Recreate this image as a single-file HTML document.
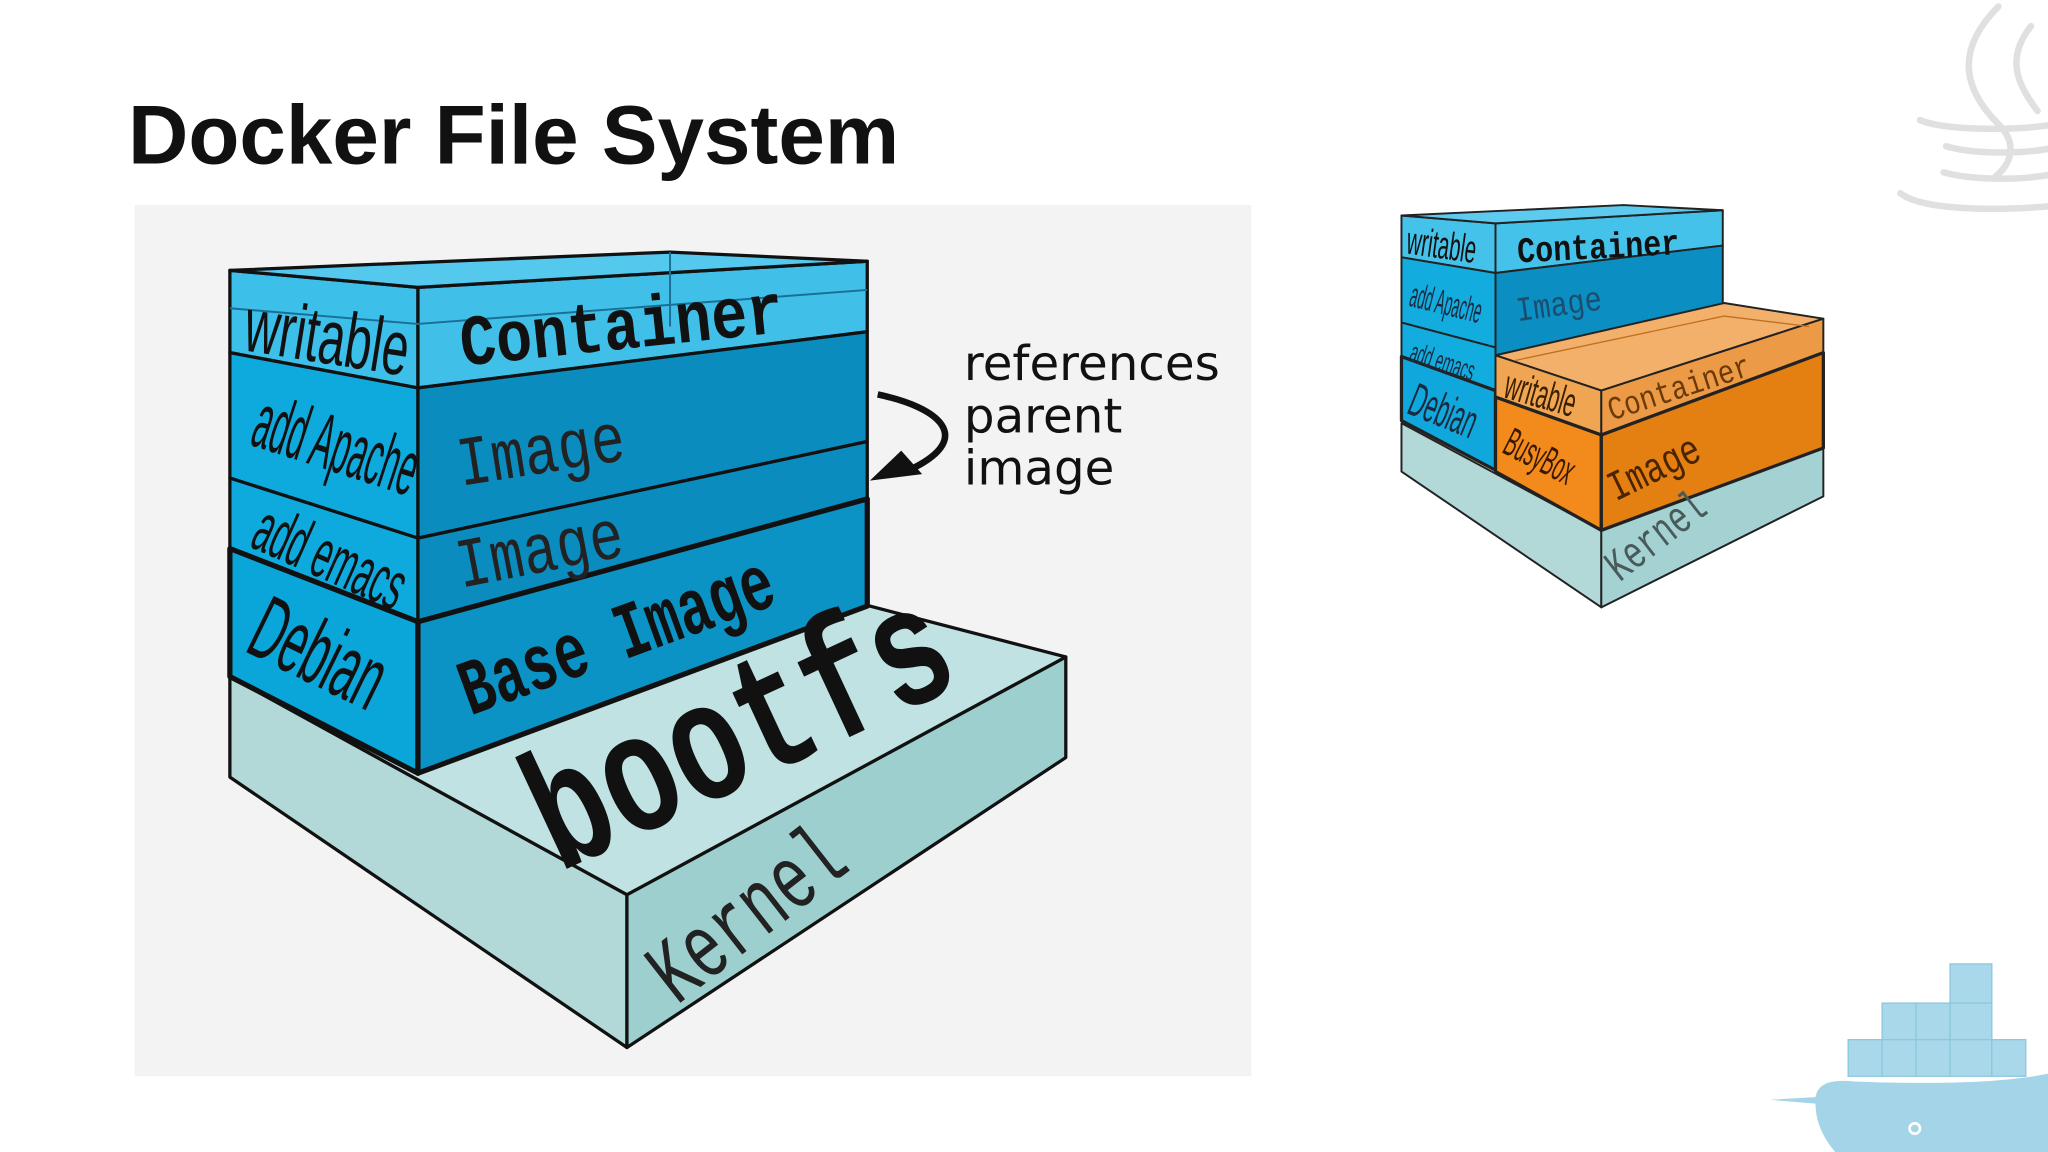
<!DOCTYPE html>
<html><head><meta charset="utf-8"><style>
html,body{margin:0;padding:0;background:#fff;}
svg{display:block;}
</style></head><body>
<svg width="2048" height="1152" viewBox="0 0 1568 882" xmlns="http://www.w3.org/2000/svg">
<rect width="1568" height="882" fill="#ffffff"/>
<g fill="none" stroke="#e0e0e0" stroke-width="5" stroke-linecap="round">
<path d="M1530 5 C1495 40 1505 70 1530 95 C1545 110 1540 125 1528 135"/>
<path d="M1555 20 C1535 45 1545 65 1560 85"/>
<path d="M1470 92 C1490 100 1540 100 1568 96"/>
<path d="M1490 112 C1510 118 1545 118 1568 114"/>
<path d="M1488 132 C1510 138 1545 138 1568 134"/>
<path d="M1455 148 C1470 160 1520 162 1568 158"/>
</g>
<text x="98" y="125" font-family="Liberation Sans, sans-serif" font-weight="bold" font-size="64" fill="#111">Docker File System</text>
<rect x="103" y="157" width="855" height="667" fill="#f3f3f3"/>

<g stroke="#111" stroke-width="2.5" stroke-linejoin="round">
<polygon points="176,518 480,685 480,802 176,595" fill="#b2d8d8"/>
<polygon points="480,685 816,503 816,580 480,802" fill="#9ecfcf"/>
<polygon points="176,518 666,464 816,503 480,685" fill="#c1e2e2"/>
<polygon points="176,207 320,220 320,297 176,270" fill="#3cbfe9"/>
<polygon points="176,270 320,297 320,412 176,366" fill="#0eaade"/>
<polygon points="176,366 320,412 320,476 176,420" fill="#0eaade"/>
<polygon points="176,420 320,476 320,592 176,518" fill="#0aa6da" stroke-width="4"/>
<polygon points="320,220 664,200 664,254 320,297" fill="#40bfe8"/>
<polygon points="320,297 664,254 664,338 320,412" fill="#0a8cbf"/>
<polygon points="320,412 664,338 664,382 320,476" fill="#0a8cbf"/>
<polygon points="320,476 664,382 664,464 320,592" fill="#0b93c6" stroke-width="4"/>
<polygon points="176,207 513,193 664,200 320,220" fill="#55c8ee"/>
</g>
<g stroke="#1a6f95" stroke-width="1.5" fill="none">
<line x1="513" y1="193" x2="513" y2="250"/>
<polyline points="176,236 320,248 664,222"/>
</g>
<g font-family="Liberation Sans, sans-serif" fill="#111">
<text transform="translate(185,268) rotate(9) scale(0.68,1.1)" font-size="54">writable</text>
<text transform="translate(190,340) rotate(18) scale(0.47,1.15)" font-size="52">add Apache</text>
<text transform="translate(190,418) rotate(24) scale(0.52,1.1)" font-size="48">add emacs</text>
<text transform="translate(186,498) rotate(26) scale(0.58,1.2)" font-size="58">Debian</text>
</g>
<g font-family="Liberation Mono, monospace" fill="#111">
<text transform="translate(354,280) rotate(-6) scale(1,1.2)" font-size="46" font-weight="bold">Container</text>
<text transform="translate(353,372) rotate(-9) scale(1,1.25)" font-size="43" fill="#222">Image</text>
<text transform="translate(353,450) rotate(-11) scale(1,1.25)" font-size="43" fill="#222">Image</text>
<text transform="translate(360,548) rotate(-20) scale(1,1.45)" font-size="42" font-weight="bold">Base Image</text>
<text transform="translate(428,668) rotate(-25) scale(0.95,1.3)" font-size="100" font-weight="bold">bootfs</text>
<text transform="translate(518,770) rotate(-38) scale(0.95,1.4)" font-size="50" fill="#222">Kernel</text>
</g>
<path d="M672 302 C720 312 745 335 700 358" fill="none" stroke="#111" stroke-width="5"/>
<polygon points="666,368 690,345 706,363" fill="#111"/>
<g font-family="DejaVu Sans, sans-serif" font-size="37" fill="#111">
<text x="738" y="291">references</text>
<text x="738" y="331">parent</text>
<text x="738" y="371">image</text>
</g>

<g stroke="#222" stroke-width="1.5" stroke-linejoin="round">
<polygon points="1073,324 1226,406 1226,465 1073,361" fill="#b2d8d8"/>
<polygon points="1226,406 1396,343 1396,380 1226,465" fill="#a4d2d2"/>
<polygon points="1073,165 1145,171 1145,209 1073,197" fill="#45c2ea"/>
<polygon points="1073,197 1145,209 1145,266 1073,247" fill="#12acdf"/>
<polygon points="1073,247 1145,266 1145,299 1073,273" fill="#12acdf"/>
<polygon points="1073,273 1145,299 1145,360 1073,322" fill="#10a8dc" stroke-width="2.5"/>
<polygon points="1145,171 1319,161 1319,188 1145,209" fill="#45c2ea"/>
<polygon points="1145,209 1319,188 1319,300 1145,360" fill="#0b8ec2"/>
<polygon points="1073,165 1243,157 1319,161 1145,171" fill="#5dcbef"/>
<polygon points="1145,272 1320,232 1396,244 1226,299" fill="#f2b06a"/>
<polygon points="1145,272 1226,299 1226,333 1145,304" fill="#f0a552"/>
<polygon points="1226,299 1396,244 1396,270 1226,333" fill="#ec9a45"/>
<polygon points="1145,304 1226,333 1226,406 1145,361" fill="#f28b1c" stroke-width="2.5"/>
<polygon points="1226,333 1396,270 1396,343 1226,406" fill="#e47f12" stroke-width="2.5"/>
</g>
<polyline points="1160,276 1320,242 1385,250" fill="none" stroke="#c07020" stroke-width="1"/>
<g font-family="Liberation Sans, sans-serif" fill="#111">
<text transform="translate(1076,194) rotate(8) scale(0.62,1.2)" font-size="25">writable</text>
<text transform="translate(1078,234) rotate(14) scale(0.48,1.2)" font-size="22" fill="#1a2a40">add Apache</text>
<text transform="translate(1078,276) rotate(18) scale(0.52,1.1)" font-size="20" fill="#1a2a40">add emacs</text>
<text transform="translate(1076,316) rotate(22) scale(0.6,1.3)" font-size="28" fill="#1a2a40">Debian</text>
<text transform="translate(1150,304) rotate(16) scale(0.62,1.2)" font-size="26" fill="#3a2000">writable</text>
<text transform="translate(1149,346) rotate(27) scale(0.55,1.2)" font-size="26" fill="#3a1800">BusyBox</text>
</g>
<g font-family="Liberation Mono, monospace">
<text transform="translate(1162,201) rotate(-3) scale(1,1.2)" font-size="23" font-weight="bold" fill="#111">Container</text>
<text transform="translate(1162,246) rotate(-8) scale(1,1.2)" font-size="22" fill="#1a4e70">Image</text>
<text transform="translate(1234,322) rotate(-18) scale(1,1.2)" font-size="21" fill="#6a3a08">Container</text>
<text transform="translate(1237,384) rotate(-26) scale(1,1.3)" font-size="25" fill="#4a2400">Image</text>
<text transform="translate(1240,446) rotate(-38) scale(0.9,1.3)" font-size="27" fill="#4a5a5a">Kernel</text>
</g>

<g fill="#a9d8ea" stroke="#8cc7de" stroke-width="1">
<rect x="1493" y="738" width="32" height="30"/>
<rect x="1441" y="768" width="26" height="28"/><rect x="1467" y="768" width="26" height="28"/><rect x="1493" y="768" width="32" height="28"/>
<rect x="1415" y="796" width="26" height="28"/><rect x="1441" y="796" width="26" height="28"/><rect x="1467" y="796" width="26" height="28"/><rect x="1493" y="796" width="32" height="28"/><rect x="1525" y="796" width="26" height="28"/>
</g>
<path d="M1355 842 L1390 840 C1392 830 1400 826 1420 828 C1470 830 1530 830 1568 822 L1568 882 L1405 882 C1395 870 1390 858 1390 845 Z" fill="#a3d4e8"/>
<circle cx="1466" cy="864" r="4" fill="none" stroke="#fff" stroke-width="2"/>
</svg>
</body></html>
